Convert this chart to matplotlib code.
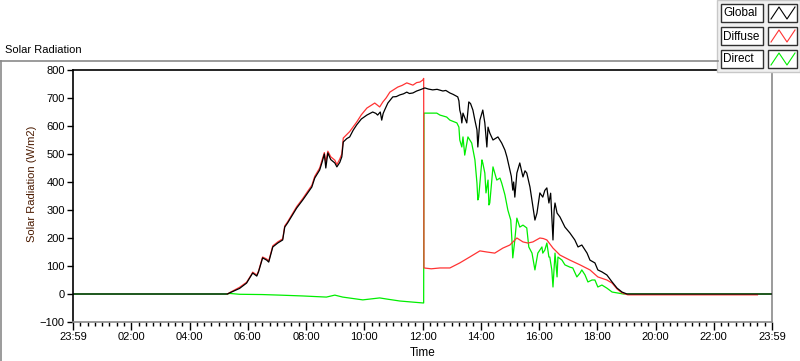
import matplotlib
matplotlib.use("Agg")
import matplotlib.pyplot as plt
from matplotlib.patches import Rectangle
from matplotlib.lines import Line2D
from matplotlib.ticker import MultipleLocator, FixedLocator

plt.rcParams['font.family'] = ['Liberation Sans', 'DejaVu Sans']

# ---------------- data (hours since 23:59 of previous day) ----------------
global_t = [0, 5.3, 5.38, 5.72, 5.96, 6.13, 6.17, 6.31, 6.37, 6.51, 6.65, 6.72, 6.86, 7.03, 7.20, 7.27,
            7.37, 7.68, 7.89, 8.06, 8.20, 8.30, 8.47, 8.55, 8.63, 8.68, 8.75, 8.85, 8.99, 9.06, 9.16,
            9.23, 9.28, 9.40, 9.50, 9.62, 9.74, 9.90, 10.09, 10.29, 10.40, 10.46, 10.55, 10.60, 10.65,
            10.70, 10.81, 10.98, 11.10, 11.22, 11.35, 11.46, 11.55, 11.67, 11.80, 11.91, 12.08, 12.20,
            12.35, 12.50, 12.70, 12.80, 12.94, 13.05, 13.21, 13.25, 13.28, 13.32, 13.35, 13.39, 13.45,
            13.52, 13.59, 13.65, 13.73, 13.80, 13.87, 13.90, 13.97, 14.07, 14.14, 14.21, 14.25, 14.31,
            14.42, 14.50, 14.59, 14.72, 14.83, 14.90, 15.00, 15.05, 15.10, 15.13, 15.17, 15.24, 15.34,
            15.40, 15.45, 15.52, 15.58, 15.69, 15.79, 15.86, 15.93, 16.03, 16.13, 16.20, 16.27, 16.34,
            16.40, 16.48, 16.52, 16.55, 16.62, 16.72, 16.89, 17.06, 17.23, 17.34, 17.47, 17.65, 17.75,
            17.92, 18.02, 18.16, 18.33, 18.51, 18.68, 18.85, 19.02, 24.0]
global_v = [0, 0, 4, 20, 39, 68, 75, 64, 79, 129, 121, 114, 168, 182, 193, 239,
            254, 307, 336, 361, 382, 414, 443, 470, 500, 450, 504, 480, 468, 454, 470,
            490, 543, 555, 561, 585, 604, 625, 639, 650, 645, 639, 650, 621, 645,
            657, 682, 704, 705, 711, 715, 721, 716, 718, 725, 729, 736, 732,
            729, 731, 725, 727, 718, 713, 704, 690, 657, 640, 611, 646, 630,
            611, 686, 680, 657, 620, 586, 525, 621, 657, 611, 525, 596, 575,
            550, 555, 561, 539, 514, 489, 443, 420, 371, 400, 346, 432, 468,
            440, 418, 440, 432, 382, 311, 264, 289, 361, 346, 370, 379, 325,
            360, 193, 300, 325, 289, 275, 239, 218, 193, 168, 175, 146, 121,
            111, 86, 79, 68, 43, 21, 7, 0, 0]

diffuse_t = [5.3, 5.38, 5.72, 5.96, 6.13, 6.17, 6.31, 6.37, 6.51, 6.65, 6.72, 6.86, 7.03, 7.20, 7.27,
             7.37, 7.68, 7.89, 8.06, 8.20, 8.30, 8.47, 8.55, 8.63, 8.68, 8.75, 8.85, 8.99, 9.06, 9.16,
             9.23, 9.28, 9.50, 9.74, 9.90, 10.09, 10.36, 10.53, 10.64, 10.75, 10.88, 11.15, 11.30,
             11.46, 11.67, 11.80, 11.91, 12.01, 12.04, 12.05, 12.30, 12.60, 12.94, 13.28, 13.62,
             13.97, 14.21, 14.48, 14.76, 15.00, 15.24, 15.45, 15.62, 15.79, 16.03, 16.15, 16.27,
             16.48, 16.72, 17.06, 17.41, 17.75, 18.02, 18.33, 18.51, 18.68, 18.85, 19.05, 23.5]
diffuse_v = [0, 5, 24, 42, 70, 78, 68, 82, 132, 125, 118, 172, 186, 197, 243,
             258, 312, 341, 367, 388, 420, 450, 478, 505, 470, 510, 490, 478, 462, 482,
             500, 557, 580, 614, 640, 664, 682, 668, 686, 700, 721, 739, 745,
             754, 746, 755, 757, 764, 770, 93, 90, 93, 93, 111, 132,
             154, 150, 146, 164, 175, 200, 186, 182, 186, 200, 198, 193,
             164, 139, 121, 104, 86, 61, 50, 39, 18, 4, -3, -3]

direct_t = [0, 5.3, 5.38, 5.72, 6.5, 7.1, 7.89, 8.7, 8.99, 9.26, 9.95, 10.53, 10.77, 11.22, 11.67,
            12.02, 12.04, 12.05, 12.15, 12.49, 12.6, 12.83, 12.94, 13.18, 13.25, 13.28, 13.35,
            13.39, 13.45, 13.56, 13.69, 13.80, 13.87, 13.90, 13.93, 14.04, 14.07, 14.14, 14.18,
            14.25, 14.28, 14.31, 14.42, 14.55, 14.66, 14.72, 14.83, 14.93, 15.03, 15.07, 15.10,
            15.17, 15.24, 15.34, 15.45, 15.58, 15.65, 15.76, 15.86, 15.96, 16.10, 16.13, 16.20,
            16.27, 16.34, 16.37, 16.44, 16.48, 16.55, 16.62, 16.65, 16.79, 16.89, 17.06, 17.16,
            17.30, 17.41, 17.47, 17.58, 17.68, 17.82, 17.92, 18.02, 18.16, 18.33, 18.51, 18.68,
            18.9, 24.0]
direct_v = [0, 0, 2, -1, -2, -4, -7, -11, -4, -11, -21, -14, -18, -25, -29,
            -32, -32, 646, 646, 646, 639, 632, 621, 611, 596, 550, 525,
            561, 496, 561, 539, 479, 396, 336, 346, 479, 468, 432, 361,
            407, 318, 325, 454, 407, 414, 396, 354, 300, 264, 193, 129,
            193, 271, 239, 246, 236, 168, 146, 86, 146, 168, 146, 157,
            182, 132, 132, 86, 25, 146, 61, 132, 121, 104, 96, 93,
            61, 75, 86, 68, 43, 50, 50, 25, 32, 21, 7, 4,
            0, 0]

x_tick_pos = [0, 2, 4, 6, 8, 10, 12, 14, 16, 18, 20, 22, 24]
x_tick_labels = ['23:59', '02:00', '04:00', '06:00', '08:00', '10:00', '12:00',
                 '14:00', '16:00', '18:00', '20:00', '22:00', '23:59']
y_ticks = [-100, 0, 100, 200, 300, 400, 500, 600, 700, 800]
series_names = ['Global', 'Diffuse', 'Direct']
series_colors = ['#000000', '#ff3333', '#00ee00']

# ---------------- figure ----------------
W, H = 800, 361
fig = plt.figure(figsize=(W / 100, H / 100), dpi=100)
fig.patch.set_facecolor('white')

L, R, T, B = 73, 772, 70, 322
ax = fig.add_axes([L / W, 1 - B / H, (R - L) / W, (B - T) / H])
ax.plot(direct_t, direct_v, color=series_colors[2], lw=0.9, zorder=2)
ax.plot(diffuse_t, diffuse_v, color=series_colors[1], lw=0.9, zorder=3)
ax.plot(global_t, global_v, color=series_colors[0], lw=0.9, zorder=4)

ax.set_xlim(0, 24)
ax.set_ylim(-100, 800)
ax.xaxis.set_major_locator(FixedLocator(x_tick_pos))
ax.set_xticklabels(x_tick_labels)
ax.xaxis.set_minor_locator(MultipleLocator(0.25))
ax.set_yticks(y_ticks)
ax.tick_params(axis='x', which='major', length=5.5, width=1, pad=2, labelsize=8, colors='#000000')
ax.tick_params(axis='x', which='minor', length=3, width=1)
ax.tick_params(axis='y', which='major', length=4, width=1, pad=2, labelsize=8)
for s in ['left', 'top']:
    ax.spines[s].set_color('black')
    ax.spines[s].set_linewidth(1.2)
for s in ['right', 'bottom']:
    ax.spines[s].set_color('#8a8a8a')
    ax.spines[s].set_linewidth(1.2)
ax.set_xlabel('Time', fontsize=8.5, va='center')
ax.xaxis.set_label_coords(0.5, -0.123)
ax.set_ylabel('Solar Radiation (W/m2)', fontsize=8, color='#4a1a00', va='center')
ax.yaxis.set_label_coords(-0.0587, 0.548)

# ---------------- overlay in pixel coordinates ----------------
ov = fig.add_axes([0, 0, 1, 1], zorder=10)
ov.set_xlim(0, W)
ov.set_ylim(H, 0)
ov.axis('off')

ov.add_line(Line2D([0, 718], [61, 61], color='#8a8a8a', lw=1.2))
ov.add_line(Line2D([1, 1], [61, H], color='#8a8a8a', lw=1.2))
ov.text(5, 50, 'Solar Radiation', fontsize=8, ha='left', va='center')

ov.add_patch(Rectangle((717, 0), 83, 72, facecolor='#f0f0f0', edgecolor='#c8c8c8', lw=1))
row_tops = [4, 27, 50]
for name, col, top in zip(series_names, series_colors, row_tops):
    ov.add_patch(Rectangle((721, top), 42, 18, facecolor='white', edgecolor='#303030', lw=1))
    ov.text(723, top + 9.5, name, fontsize=8.5, ha='left', va='center')
    ov.add_patch(Rectangle((768, top), 29, 18, facecolor='white', edgecolor='#303030', lw=1))
    ov.add_line(Line2D([771, 779, 787, 795], [top + 15, top + 3, top + 15, top + 3],
                       color=col, lw=0.8))

fig.savefig('out.png', dpi=100)
